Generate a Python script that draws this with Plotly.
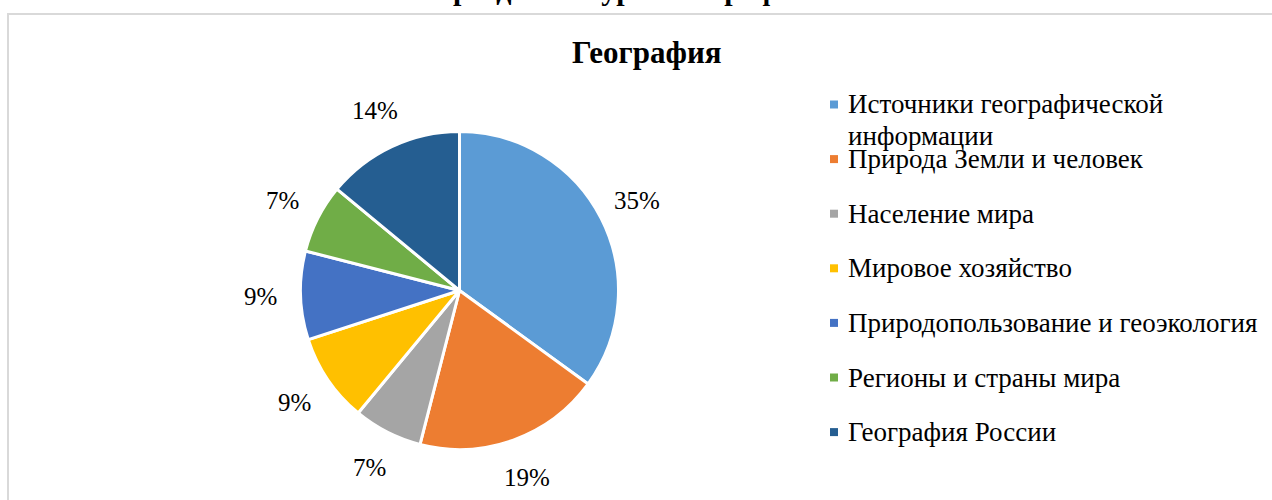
import math
import plotly.graph_objects as go

# ---- data ----
categories = [
    "Источники географической информации",
    "Природа Земли и человек",
    "Население мира",
    "Мировое хозяйство",
    "Природопользование и геоэкология",
    "Регионы и страны мира",
    "География России",
]
legend_text = [
    "Источники географической<br>информации",
    "Природа Земли и человек",
    "Население мира",
    "Мировое хозяйство",
    "Природопользование и геоэкология",
    "Регионы и страны мира",
    "География России",
]
shares = [35, 19, 7, 9, 9, 7, 14]
chart_title = "География"
page_heading = "разделам курса географии"

colors = ["#5B9BD5", "#ED7D31", "#A5A5A5", "#FFC000", "#4472C4", "#70AD47", "#255E91"]

W, H = 1272, 500
FONT = "Times New Roman, Liberation Serif, DejaVu Serif, serif"

def px(x):
    return x / W

def py(y):
    return 1 - y / H

# pie geometry (pixels)
cx, cy, r = 459.5, 290.5, 159
label_r = 199

fig = go.Figure()
fig.add_trace(go.Pie(
    labels=categories,
    values=shares,
    sort=False,
    direction="clockwise",
    rotation=0,
    marker=dict(colors=colors, line=dict(color="white", width=3)),
    textinfo="none",
    showlegend=False,
    domain=dict(x=[px(cx - r), px(cx + r)], y=[py(cy + r), py(cy - r)]),
))

annotations = []
shapes = []

# percent labels placed outside each slice at its mid-angle
total = sum(shares)
cum = 0
for v in shares:
    mid = (cum + v / 2) / total * 2 * math.pi
    cum += v
    lx = cx + label_r * math.sin(mid)
    ly = cy - label_r * math.cos(mid)
    annotations.append(dict(
        x=px(lx), y=py(ly), xref="paper", yref="paper",
        text=f"{round(v / total * 100)}%", showarrow=False,
        xanchor="center", yanchor="middle",
        font=dict(family=FONT, size=25, color="#000000"),
    ))

# manual legend
leg_font = 27
leg_x_marker = 830
leg_x_text = 846
leg_y0 = 104.5
leg_step = 54.6
line_h = 31
for i, (t, c) in enumerate(zip(legend_text, colors)):
    yc = leg_y0 + i * leg_step
    shapes.append(dict(
        type="rect", xref="paper", yref="paper",
        x0=px(leg_x_marker), x1=px(leg_x_marker + 8),
        y0=py(yc + 4), y1=py(yc - 4),
        fillcolor=c, line=dict(width=0),
    ))
    for j, line in enumerate(t.split("<br>")):
        annotations.append(dict(
            x=px(leg_x_text), y=py(yc + j * line_h),
            xref="paper", yref="paper", text=line, showarrow=False,
            xanchor="left", yanchor="middle", align="left",
            font=dict(family=FONT, size=leg_font, color="#000000"),
        ))

# chart title
annotations.append(dict(
    x=px(647), y=py(53), xref="paper", yref="paper",
    text=f"<b>{chart_title}</b>", showarrow=False,
    xanchor="center", yanchor="middle",
    font=dict(family=FONT, size=31, color="#000000"),
))

# heading cut off at the top of the page
annotations.append(dict(
    x=px(632), y=py(8), xref="paper", yref="paper",
    text=f"<b>{page_heading}</b>", showarrow=False,
    xanchor="center", yanchor="bottom",
    font=dict(family=FONT, size=30, color="#000000"),
))

# chart frame
shapes.append(dict(
    type="rect", xref="paper", yref="paper",
    x0=px(8), x1=1.05, y0=-0.05, y1=py(14),
    line=dict(color="#D9D9D9", width=2), fillcolor="rgba(0,0,0,0)",
))

fig.update_layout(
    width=W, height=H,
    margin=dict(l=0, r=0, t=0, b=0),
    paper_bgcolor="white",
    plot_bgcolor="white",
    annotations=annotations,
    shapes=shapes,
    showlegend=False,
)

fig.write_html(
    "out.html",
    config={"displayModeBar": False},
    post_script="document.body.style.margin='0';document.body.style.overflow='hidden';",
)
